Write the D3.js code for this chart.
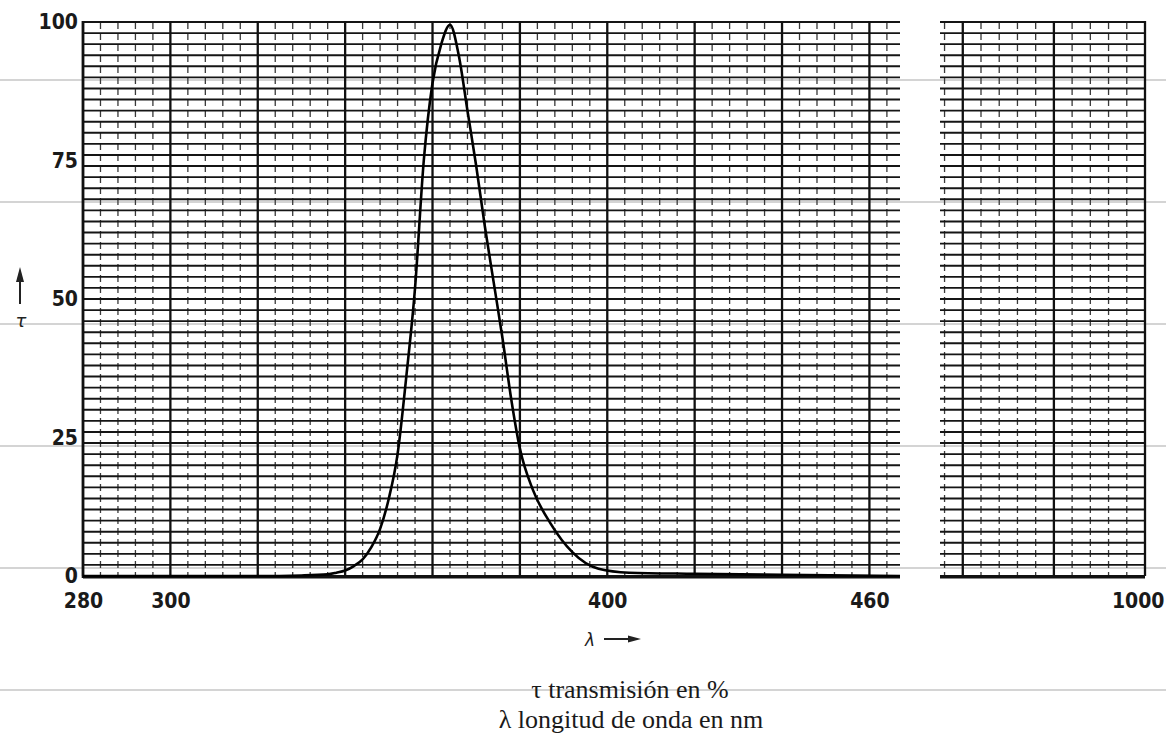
<!DOCTYPE html>
<html>
<head>
<meta charset="utf-8">
<script src="https://cdn.jsdelivr.net/npm/d3@7"></script>
<style>
  body { margin: 0; background: #fff; }
  .tick-label { font-family: "DejaVu Sans Condensed", "DejaVu Sans", sans-serif; font-size: 21px; font-weight: bold; fill: #1a1a1a; }
  .caption { font-family: "Liberation Serif", "DejaVu Serif", serif; font-size: 26px; fill: #1a1a1a; }
</style>
</head>
<body>
<div id="chart"></div>
<script>
// Transmission curve (nm, %)
const wavelengths = [280, 300, 320, 330, 336, 338, 340, 342, 344, 346, 348, 350, 352, 354, 356, 358, 360, 362, 364,
                     366, 368, 370, 372, 374, 376, 378, 380, 383, 387, 392, 398, 405, 420, 440, 467];
const transmission = [0, 0, 0, 0.1, 0.3, 0.6, 1.0, 1.8, 3.0, 5.2, 8.5, 14, 22, 36, 52, 75, 89, 96, 99.5,
                      94, 84, 74, 63, 53, 43, 32, 23, 15.5, 9.5, 4.3, 1.3, 0.6, 0.4, 0.2, 0];

const xTicksLeft = [280, 300, 400, 460];
const xTicksRight = [1000];
const yTicks = [0, 25, 50, 75, 100];

const leftDomain = [280, 467];
const rightDomain = [955, 1000];
const majorStep = 20;   // nm between heavy verticals
const minorStep = 4;    // nm between light verticals
const gridStepT = 2;    // % between horizontal rulings

const width = 1166;
const height = 733;

const svg = d3.select("#chart")
    .append("svg")
    .attr("width", width)
    .attr("height", height);

// Page lines of the scan, behind everything
const scanLines = [80, 202, 324, 446, 568, 690];
svg.append("g")
    .selectAll("line")
    .data(scanLines)
    .enter()
    .append("line")
    .attr("x1", 0).attr("x2", width)
    .attr("y1", d => d).attr("y2", d => d)
    .attr("stroke", "#d4d4d4")
    .attr("stroke-width", 2);

// Scales
const xL = d3.scaleLinear().domain(leftDomain).range([83, 900]);
const xR = d3.scaleLinear().domain(rightDomain).range([940, 1145]);
const y = d3.scaleLinear().domain([0, 100]).range([576, 22]);

const gridT = d3.range(0, 100 + 0.001, gridStepT);

function stepsIn(domain, step) {
    const start = Math.ceil(domain[0] / step) * step;
    return d3.range(start, domain[1] + 0.001, step);
}

function drawPanel(x) {
    const [x0, x1] = x.range();
    const g = svg.append("g");
    const minors = stepsIn(x.domain(), minorStep).filter(v => v % majorStep !== 0);
    const majors = stepsIn(x.domain(), majorStep);

    g.selectAll(".minor")
        .data(minors)
        .enter()
        .append("line")
        .attr("x1", d => x(d)).attr("x2", d => x(d))
        .attr("y1", y(100)).attr("y2", y(0))
        .attr("stroke", "#3a3a3a")
        .attr("stroke-width", 1.3)
        .attr("stroke-dasharray", "7 4");

    g.selectAll(".hline")
        .data(gridT)
        .enter()
        .append("line")
        .attr("x1", x0).attr("x2", x1)
        .attr("y1", d => y(d)).attr("y2", d => y(d))
        .attr("stroke", "#151515")
        .attr("stroke-width", 1.9);

    g.selectAll(".major")
        .data(majors)
        .enter()
        .append("line")
        .attr("x1", d => x(d)).attr("x2", d => x(d))
        .attr("y1", y(100) - 1).attr("y2", y(0))
        .attr("stroke", "#111")
        .attr("stroke-width", 2.3);

    // heavy base line
    g.append("line")
        .attr("x1", x0).attr("x2", x1)
        .attr("y1", y(0) + 1).attr("y2", y(0) + 1)
        .attr("stroke", "#111")
        .attr("stroke-width", 3);
    return g;
}

drawPanel(xL);
drawPanel(xR);

// Left frame edge
svg.append("line")
    .attr("x1", xL(280)).attr("x2", xL(280))
    .attr("y1", y(100) - 1).attr("y2", y(0) + 2)
    .attr("stroke", "#111")
    .attr("stroke-width", 2.6);

// Transmission curve
const curveData = wavelengths.map((w, i) => ({ w: w, t: transmission[i] }));
svg.append("path")
    .datum(curveData)
    .attr("fill", "none")
    .attr("stroke", "#000")
    .attr("stroke-width", 2.6)
    .attr("d", d3.line()
        .x(d => xL(d.w))
        .y(d => y(d.t))
        .curve(d3.curveMonotoneX));

// Axes (labels only)
const yAxis = svg.append("g")
    .attr("transform", `translate(${xL(280)},0)`)
    .call(d3.axisLeft(y).tickValues(yTicks).tickSize(0).tickPadding(5));

const xAxisL = svg.append("g")
    .attr("transform", `translate(0,${y(0)})`)
    .call(d3.axisBottom(xL).tickValues(xTicksLeft).tickSize(0).tickPadding(17));

const xAxisR = svg.append("g")
    .attr("transform", `translate(0,${y(0)})`)
    .call(d3.axisBottom(xR).tickValues(xTicksRight).tickFormat(d3.format("d")).tickSize(0).tickPadding(17));

[yAxis, xAxisL, xAxisR].forEach(a => {
    a.select(".domain").remove();
    a.selectAll("text")
        .attr("class", "tick-label")
        .attr("font-family", null)
        .attr("font-size", null);
    a.attr("font-family", null).attr("font-size", null);
});

// last label sits flush to the page edge
xAxisR.selectAll("text")
    .attr("text-anchor", "end")
    .attr("dx", 19);

// Vertical axis symbol: arrow with tau
svg.append("line")
    .attr("x1", 20).attr("x2", 20)
    .attr("y1", 278).attr("y2", 304)
    .attr("stroke", "#222")
    .attr("stroke-width", 2);
svg.append("path")
    .attr("d", "M16,282 L20,267 L24,282 Z")
    .attr("fill", "#222");
svg.append("text")
    .attr("x", 21)
    .attr("y", 327)
    .attr("text-anchor", "middle")
    .attr("font-family", "DejaVu Sans, sans-serif")
    .attr("font-style", "italic")
    .attr("font-size", 18)
    .attr("fill", "#222")
    .text("τ");

// Horizontal axis symbol: lambda with arrow
svg.append("text")
    .attr("x", 590)
    .attr("y", 646)
    .attr("text-anchor", "middle")
    .attr("font-family", "DejaVu Sans, sans-serif")
    .attr("font-style", "italic")
    .attr("font-size", 17)
    .attr("fill", "#222")
    .text("λ");
svg.append("line")
    .attr("x1", 604).attr("x2", 632)
    .attr("y1", 639).attr("y2", 639)
    .attr("stroke", "#222")
    .attr("stroke-width", 2);
svg.append("path")
    .attr("d", "M628,635.5 L641,639 L628,642.5 Z")
    .attr("fill", "#222");

// Legend captions
svg.append("text")
    .attr("class", "caption")
    .attr("x", 630)
    .attr("y", 698)
    .attr("text-anchor", "middle")
    .text("τ transmisión en %");

svg.append("text")
    .attr("class", "caption")
    .attr("x", 631)
    .attr("y", 728)
    .attr("text-anchor", "middle")
    .text("λ longitud de onda en nm");
</script>
</body>
</html>
